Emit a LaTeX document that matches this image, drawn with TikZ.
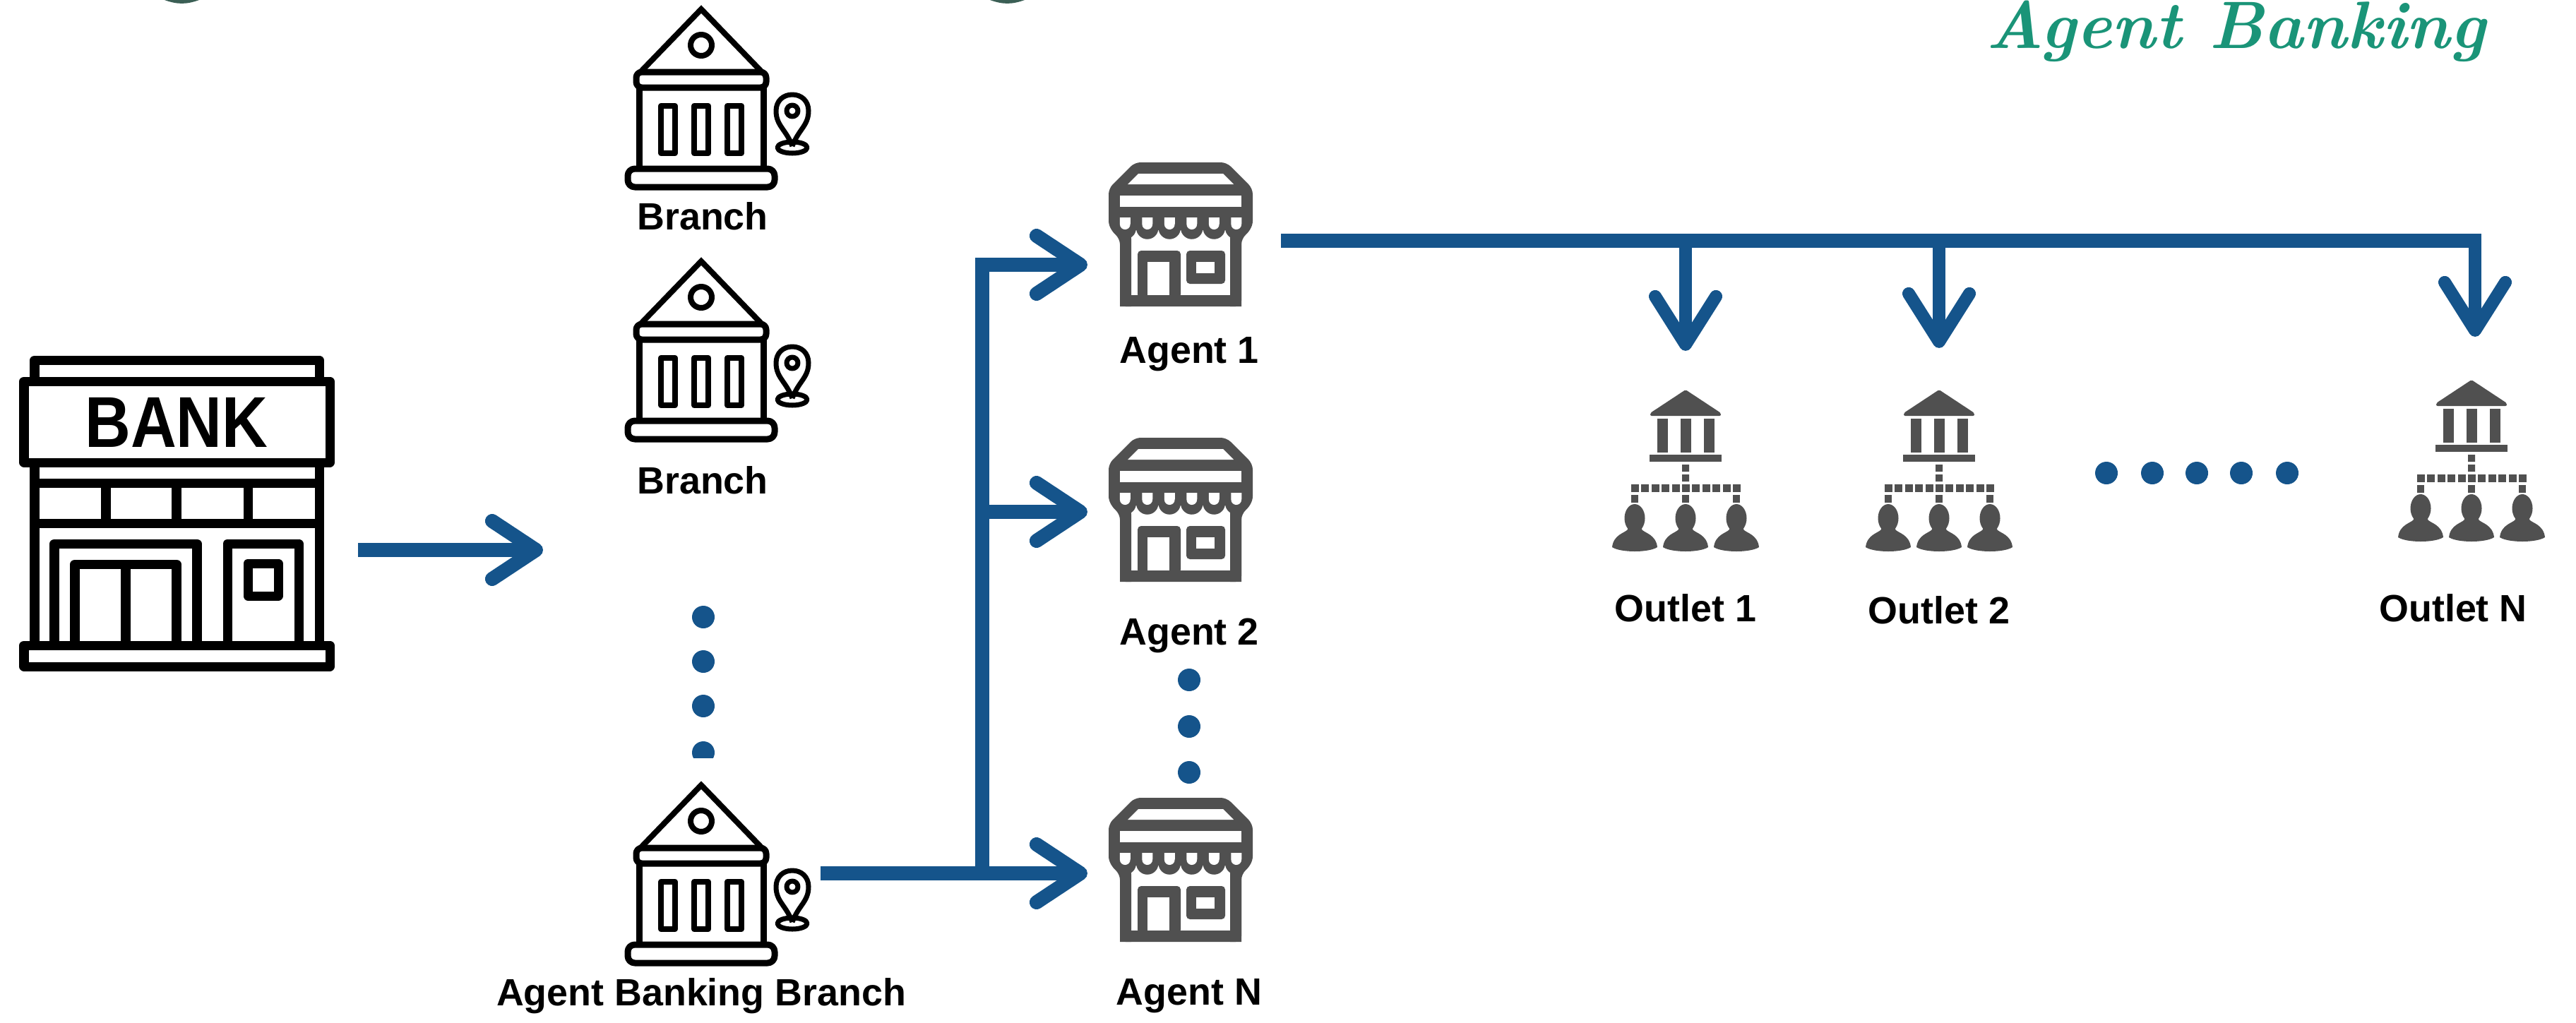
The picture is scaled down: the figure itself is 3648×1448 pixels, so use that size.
\documentclass[tikz,border=0pt]{standalone}
\usepackage{fontspec}
\setsansfont{Liberation Sans}
\usetikzlibrary{arrows.meta}
\definecolor{flowblue}{HTML}{15548B}
\definecolor{icongray}{HTML}{505050}
\definecolor{logogreen}{HTML}{1A9478}
\definecolor{titlegreen}{HTML}{3B5F55}
\tikzset{
  caption/.style={font=\sffamily\bfseries\fontsize{15.3}{18}\selectfont,text=black,inner sep=0pt},
  hold/.style={inner sep=0pt,outer sep=0pt},
  wire/.style={flowblue,line width=.2cm},
  flow/.style={wire,-{Straight Barb[length=.62cm,width=.82cm,round]}},
  drop/.style={flowblue,line width=.18cm,-{Straight Barb[length=.68cm,width=.86cm,round]}},
  seqdot/.style={fill=flowblue,draw=none},
  branchicon/.pic={
    \begin{scope}[black,line width=.09cm,line join=round]
    \draw[line width=.08cm,line join=miter] (-86,94) -- (0,5) -- (86,94);
    \draw[line width=.08cm] (0,56) circle (15);
    \draw[rounded corners=.08cm] (-92,94) rectangle (92,116);
    \draw (-88,116) -- (-88,231) (88,116) -- (88,231);
    \draw[rounded corners=.1cm] (-104,231) rectangle (104,257);
    \foreach \wx in {-47,0,47}
      \draw[line width=.08cm] (\wx-10,142) rectangle (\wx+10,209);
    \draw[line width=.07cm] (129,199) .. controls (120,175) and (106,170) .. (106,149)
      .. controls (106,135) and (116,126) .. (129,126)
      .. controls (142,126) and (152,135) .. (152,149)
      .. controls (152,170) and (138,175) .. (129,199);
    \draw[line width=.07cm] (129,149) circle (8);
    \draw[line width=.07cm] (129,201) ellipse (21 and 8);
    \end{scope}
  },
  shopicon/.pic={
    \fill[icongray,rounded corners=.08cm] (-65,0) -- (65,0) -- (102,37) -- (102,75)
      .. controls (102,92) and (95,100) .. (86,108) -- (86,204) -- (-86,204) -- (-86,108)
      .. controls (-95,100) and (-102,92) .. (-102,75) -- (-102,37) -- cycle;
    \fill[white] (-60,16) -- (60,16) -- (75,31) -- (-75,31) -- cycle;
    \fill[white] (-86,47) rectangle (86,63);
    \fill[white] (-70,96) rectangle (70,188);
    \foreach \sx in {-78.75,-47.25,-15.75,15.75,47.25,78.75}{
      \fill[icongray] (\sx,93) circle (15.75);
      \fill[white] (\sx-7.5,78) -- (\sx+7.5,78) -- (\sx+7.5,87)
        .. controls (\sx+7.5,93) and (\sx+3,95) .. (\sx,95)
        .. controls (\sx-3,95) and (\sx-7.5,93) .. (\sx-7.5,87) -- cycle;
    }
    \fill[icongray] (-86,108) rectangle (-70,204) (70,108) rectangle (86,204);
    \fill[icongray,rounded corners=.05cm] (-61,125) rectangle (0,192);
    \fill[white] (-47,141) rectangle (-16,188);
    \fill[icongray,rounded corners=.05cm] (8,125) rectangle (63,172);
    \fill[white] (22,141) rectangle (48,157);
  },
  persontop/.pic={
    \fill[icongray] (0,19) ellipse (14.5 and 20);
    \fill[icongray] (-10,30) -- (-10,35) .. controls (-14,40) and (-30,42) .. (-32,60)
      .. controls (-20,68) and (20,68) .. (32,60)
      .. controls (30,42) and (14,40) .. (10,35) -- (10,30) -- cycle;
  },
  outleticon/.pic={
    \fill[icongray,rounded corners=.02cm] (0,0) -- (50,33) -- (50,37) -- (-50,37) -- (-50,33) -- cycle;
    \foreach \cx in {-33,0,33}
      \fill[icongray] (\cx-7.5,41) rectangle (\cx+7.5,89);
    \fill[icongray] (-51,92) rectangle (51,102);
    \fill[icongray] (-5,106) rectangle (5,116) (-5,120) rectangle (5,130);
    \foreach \qx in {0,...,10}
      \fill[icongray] (-77+\qx*14.4,134) rectangle (-66+\qx*14.4,145);
    \foreach \qx in {-72,0,72}{
      \fill[icongray] (\qx-5,149) rectangle (\qx+5,160);
      \pic at (\qx,163) {persontop};
    }
  },
}
\begin{document}
\begin{tikzpicture}[x=.01cm,y=-.01cm]
\useasboundingbox (0,0) rectangle (3648,1448);
% clipped title remains along the top edge
\fill[titlegreen] (233,0) to[bend right=20] (282,0) -- cycle;
\fill[titlegreen] (1402,0) to[bend right=20] (1451,0) -- cycle;
\node[font=\bfseries\itshape\fontsize{27}{32}\selectfont,text=logogreen,hold,anchor=base east] (Logo) at (3520,68) {Agent Banking};

% bank
\begin{scope}[black,line width=.13cm,line join=round]
\draw (49,540) -- (49,510) -- (452,510) -- (452,540);
\draw (34,540) rectangle (467,655);
\draw (49,655) -- (49,914) (452,655) -- (452,914);
\draw (49,684) -- (452,684) (49,741) -- (452,741);
\draw (150,684) -- (150,741) (250,684) -- (250,741) (351,684) -- (351,741);
\draw (77,914) -- (77,770) -- (279,770) -- (279,914);
\draw (106,914) -- (106,799) -- (250,799) -- (250,914) (178,799) -- (178,914);
\draw (322,914) -- (322,770) -- (423,770) -- (423,914);
\draw (351,798) rectangle (394,844);
\draw (34,914) rectangle (467,944);
\end{scope}
\node[font=\sffamily\bfseries\fontsize{29}{34}\selectfont,xscale=.88,hold] (BankName) at (250,598) {BANK};

% anchors for the connectors
\node[hold,minimum width=5.14cm] (Bank) at (250,779) {};
\coordinate (BankEnd) at (769,779);
\node[hold,minimum width=3.38cm] (B2) at (993,1237) {};
\node[hold,minimum width=2.64cm] (A0) at (1672,375) {};
\node[hold,minimum width=2.64cm] (A1) at (1672,725) {};
\node[hold,minimum width=2.64cm] (A2) at (1672,1237) {};
\coordinate (J0) at (1391,375);
\coordinate (J1) at (1391,725);
\coordinate (J2) at (1391,1237);
\coordinate (BusStart) at (1814,341);
\coordinate (BusEnd) at (3505,341);
\node[hold,minimum height=2.86cm] (O0) at (2387,640) {};
\node[hold,minimum height=2.86cm] (O1) at (2746,636) {};
\node[hold,minimum height=2.86cm] (O2) at (3505,620) {};

% icons
\pic at (993,8) {branchicon};
\pic at (993,365) {branchicon};
\pic at (993,1107) {branchicon};
\pic at (1672,230) {shopicon};
\pic at (1672,620) {shopicon};
\pic at (1672,1130) {shopicon};
\pic at (2387,552) {outleticon};
\pic at (2746,552) {outleticon};
\pic at (3500,538) {outleticon};

% labels
\node[caption] (LB0) at (995,306) {Branch};
\node[caption] (LB1) at (995,680) {Branch};
\node[caption] (LB2) at (993,1411) {Agent Banking Branch};
\node[caption] (LA0) at (1684,502) {Agent 1};
\node[caption] (LA1) at (1684,900) {Agent 2};
\node[caption] (LA2) at (1684,1411) {Agent N};
\node[caption] (LO0) at (2387,861) {Outlet 1};
\node[caption] (LO1) at (2746,864) {Outlet 2};
\node[caption] (LO2) at (3474,861) {Outlet N};

% dots
\foreach \dy in {874,937,1000}
  \fill[seqdot] (996,\dy) circle (16);
\begin{scope}
\clip (960,1040) rectangle (1030,1073);
\fill[seqdot] (996,1066) circle (16);
\end{scope}
\foreach \dy in {963,1029,1094}
  \fill[seqdot] (1684,\dy) circle (16);
\foreach \dx in {2983,3048,3111,3174,3239}
  \fill[seqdot] (\dx,670) circle (16);

% connectors
\draw[flow] (Bank.east) -- (BankEnd);
\draw[wire] (B2.east) -- (J2);
\draw[flow] (J2) -- (A2.west);
\draw[wire] (J2) -- (J0);
\draw[flow] ([yshift=.1cm]J0) -- (J0) -- (A0.west);
\draw[flow] (J1) -- (A1.west);
\draw[wire,line cap=butt] (BusStart) -- ([xshift=.09cm]BusEnd);
\draw[drop] (BusStart -| O0) -- (O0.north);
\draw[drop] (BusStart -| O1) -- (O1.north);
\draw[drop] (BusEnd) -- (O2.north);
\end{tikzpicture}
\end{document}
